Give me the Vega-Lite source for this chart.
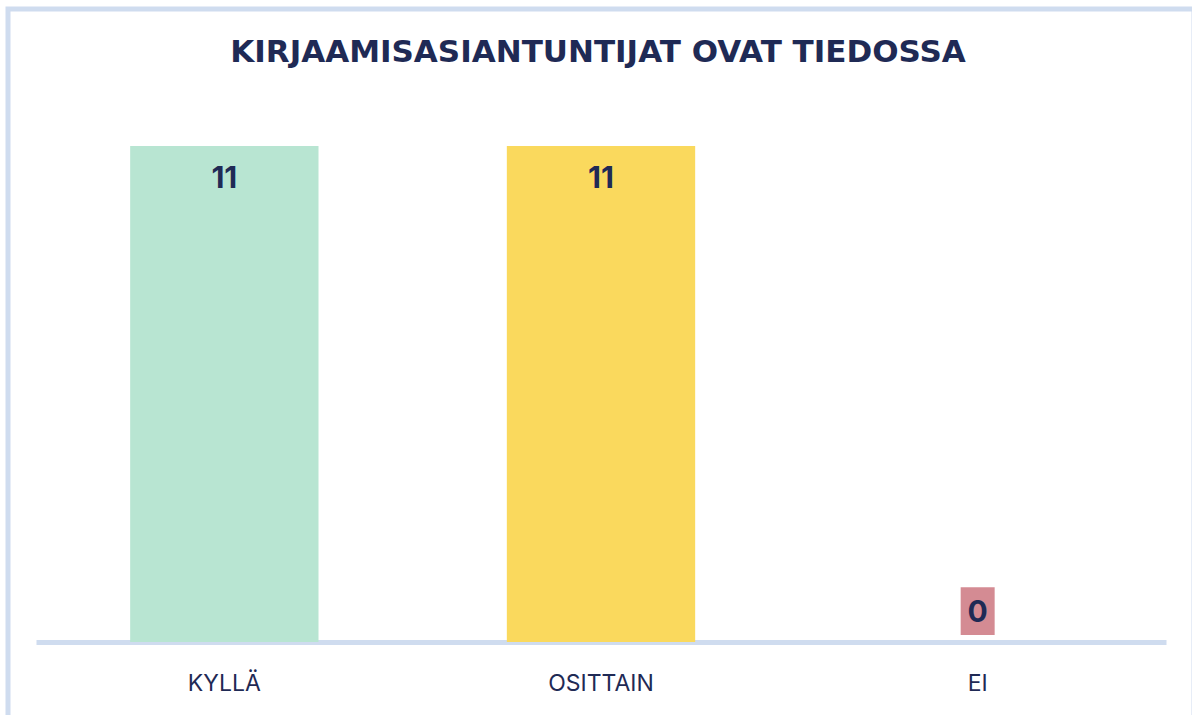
{
  "$schema": "https://vega.github.io/schema/vega-lite/v6.json",
  "autosize": {"type": "none"},
  "width": 1186,
  "height": 721,
  "padding": {"left": 8, "top": 9, "right": -2, "bottom": -15},
  "background": "white",
  "config": {
    "view": {"stroke": "#cfdcef", "strokeWidth": 5, "fill": "white"},
    "font": "Inter"
  },
  "title": {
    "text": "KIRJAAMISASIANTUNTIJAT OVAT TIEDOSSA",
    "font": "DejaVu Sans",
    "fontSize": 31,
    "fontWeight": "bold",
    "color": "#1f2a55",
    "anchor": "middle",
    "frame": "group",
    "orient": "top",
    "baseline": "alphabetic",
    "offset": -84,
    "dx": -3
  },
  "data": {
    "values": [
      {"Category": "KYLLÄ", "Value": 11},
      {"Category": "OSITTAIN", "Value": 11},
      {"Category": "EI", "Value": 0}
    ]
  },
  "encoding": {
    "x": {
      "field": "Category",
      "type": "nominal",
      "sort": ["KYLLÄ", "OSITTAIN", "EI"],
      "scale": {"range": [28, 1158], "paddingInner": 0.5, "paddingOuter": 0.25},
      "axis": {
        "title": null,
        "orient": "bottom",
        "offset": -88,
        "domainColor": "#cfdcef",
        "domainWidth": 5,
        "ticks": false,
        "labelAngle": 0,
        "labelFont": "Inter",
        "labelFontSize": 23,
        "labelFontWeight": "normal",
        "labelColor": "#1f2a55",
        "labelBaseline": "alphabetic",
        "labelPadding": 48,
        "grid": false
      }
    },
    "y": {
      "field": "Value",
      "type": "quantitative",
      "scale": {"domain": [0, 11], "range": [633, 137], "nice": false, "zero": true},
      "axis": null
    }
  },
  "layer": [
    {
      "mark": {"type": "bar"},
      "encoding": {
        "color": {
          "field": "Category",
          "type": "nominal",
          "scale": {"domain": ["KYLLÄ", "OSITTAIN", "EI"], "range": ["#b8e5d2", "#fad95d", "#d48b93"]},
          "legend": null
        }
      }
    },
    {
      "transform": [{"filter": "datum.Value > 0"}],
      "mark": {"type": "text", "baseline": "alphabetic", "dy": 42, "font": "Inter", "fontSize": 30, "fontWeight": "bold", "color": "#1f2a55"},
      "encoding": {"text": {"field": "Value", "type": "quantitative"}}
    },
    {
      "transform": [{"filter": "datum.Value == 0"}],
      "mark": {"type": "point", "filled": true, "opacity": 1, "color": "#d48b93", "size": 2304, "shape": "M-0.708,-2.28H0.708V-0.29H-0.708Z"},
      "encoding": {}
    },
    {
      "transform": [{"filter": "datum.Value == 0"}],
      "mark": {"type": "text", "baseline": "alphabetic", "dy": -20, "font": "Inter", "fontSize": 30, "fontWeight": "bold", "color": "#1f2a55"},
      "encoding": {"text": {"field": "Value", "type": "quantitative"}}
    }
  ]
}
